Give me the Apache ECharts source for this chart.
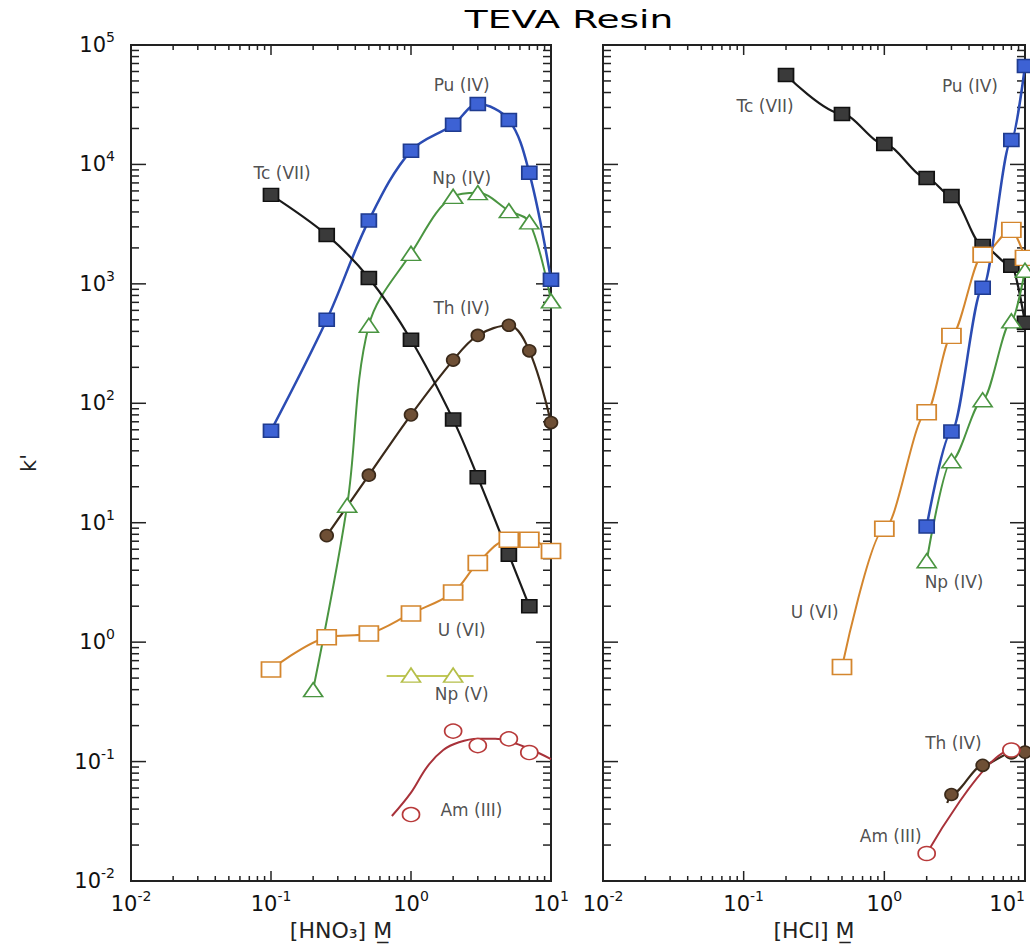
<!DOCTYPE html>
<html lang="en">
<head>
<meta charset="UTF-8">
<title>TEVA Resin</title>
<script src="https://cdn.jsdelivr.net/npm/echarts@6/dist/echarts.min.js"></script>
<style>
    html, body { margin: 0; padding: 0; background: #fff; }
    #main { width: 1030px; height: 948px; }
</style>
</head>
<body>
<div id="main"></div>
<script>
// axis decades and minor tick steps
var yDecades = [-2, -1, 0, 1, 2, 3, 4, 5];
var xDecades = [-2, -1, 0, 1];
var minorSteps = [2, 3, 4, 5, 6, 7, 8, 9];

// ---- [HNO3] panel: [acid conc (M), k'] ----
var puHNO3 = [[0.1, 59], [0.25, 500], [0.5, 3400], [1, 13000], [2, 21500], [3, 32000], [5, 23600], [7, 8500], [10, 1080]];
var tcHNO3 = [[0.1, 5560], [0.25, 2570], [0.5, 1120], [1, 340], [2, 73], [3, 24], [5, 5.4], [7, 2.0]];
var npIVHNO3 = [[0.2, 0.4], [0.35, 14], [0.5, 450], [1, 1800], [2, 5400], [3, 5800], [5, 4100], [7, 3300], [10, 720]];
var thHNO3 = [[0.25, 7.8], [0.5, 25], [1, 80], [2, 230], [3, 370], [5, 450], [7, 275], [10, 69]];
var uHNO3 = [[0.1, 0.59], [0.25, 1.1], [0.5, 1.18], [1, 1.74], [2, 2.6], [3, 4.6], [5, 7.2], [7, 7.2], [10, 5.8]];
var npVHNO3 = [[1, 0.53], [2, 0.53]];
var npVFitHNO3 = [[0.67, 0.52], [2.8, 0.52]];
var amHNO3 = [[1, 0.036], [2, 0.18], [3, 0.136], [5, 0.155], [7, 0.119]];
var amFitHNO3 = [[0.73, 0.035], [1.0, 0.055], [1.3, 0.09], [1.7, 0.125], [2.2, 0.145], [3, 0.155], [4, 0.155], [5, 0.148], [7, 0.128], [10, 0.105]];

// ---- [HCl] panel ----
var tcHCl = [[0.2, 56000], [0.5, 26500], [1, 14800], [2, 7700], [3, 5450], [5, 2080], [8, 1415], [10, 472]];
var puHCl = [[2, 9.3], [3, 58], [5, 926], [8, 16000], [10, 66700]];
var npIVHCl = [[2, 4.8], [3, 33], [5, 107], [8, 490], [10, 1300]];
var uHCl = [[0.5, 0.62], [1, 8.9], [2, 84], [3, 367], [5, 1750], [8, 2830], [10, 1650]];
var thHCl = [[3, 0.053], [5, 0.093], [8, 0.118], [10, 0.12]];
var thFitHCl = [[2.8, 0.045], [3, 0.053], [5, 0.093], [8, 0.118], [10, 0.12]];
var amHCl = [[2, 0.017], [8, 0.125]];
var amFitHCl = [[2, 0.017], [8, 0.125], [10, 0.125]];

// curve labels [text, conc, k']
var labelsHNO3 = [['Pu (IV)', 2.3, 46000], ['Np (IV)', 2.3, 7700], ['Tc (VII)', 0.12, 8500], ['Th (IV)', 2.3, 630],
    ['U (VI)', 2.3, 1.27], ['Np (V)', 2.3, 0.37], ['Am (III)', 2.7, 0.039]];
var labelsHCl = [['Tc (VII)', 0.142, 31000], ['Pu (IV)', 4.06, 45000], ['U (VI)', 0.32, 1.8], ['Np (IV)', 3.13, 3.2],
    ['Th (IV)', 3.1, 0.144], ['Am (III)', 1.11, 0.024]];

var FONT = '"DejaVu Sans", "Liberation Sans", sans-serif';
var xMin = 0.01, xMax = 10, yMin = 0.01, yMax = 100000;

var speciesStyle = {
    Pu:   {line: '#2b4cb3', fill: '#3d62d4', border: '#1f3b8f', symbol: 'rect', size: [15, 13], width: 2.5},
    Tc:   {line: '#1a1a1a', fill: '#3a3a3a', border: '#111111', symbol: 'rect', size: [15, 13], width: 2.2},
    NpIV: {line: '#4a9541', fill: '#ffffff', border: '#4a9541', symbol: 'triangle', size: [19, 14], width: 2},
    Th:   {line: '#3b2a1a', fill: '#6e4f35', border: '#3b2a1a', symbol: 'circle', size: [13, 12], width: 2.2},
    U:    {line: '#d4862e', fill: '#ffffff', border: '#d4862e', symbol: 'rect', size: [19, 15], width: 2},
    NpV:  {line: '#c3c95a', fill: '#ffffff', border: '#b5bf4a', symbol: 'triangle', size: [19, 14], width: 2},
    Am:   {line: '#a8323a', fill: '#ffffff', border: '#b83a3a', symbol: 'circle', size: [17, 14], width: 2}
};

var hno3Sets = [['Pu', puHNO3], ['NpIV', npIVHNO3], ['Th', thHNO3], ['Tc', tcHNO3],
    ['U', uHNO3], ['NpV', npVHNO3, npVFitHNO3], ['Am', amHNO3, amFitHNO3]];
var hclSets = [['Tc', tcHCl], ['U', uHCl], ['Pu', puHCl], ['NpIV', npIVHCl], ['Th', thHCl, thFitHCl], ['Am', amHCl, amFitHCl]];

function powLabel(value) {
    var e = Math.round(Math.log(value) / Math.LN10);
    return '{b|10}{s|' + e + '}';
}
var richPow = {
    b: {fontSize: 21, fontFamily: FONT, color: '#111', lineHeight: 30},
    s: {fontSize: 14, fontFamily: FONT, color: '#111', verticalAlign: 'top'}
};

// tick marks on all four sides, positioned by the axes themselves
function tickData() {
    var d = [];
    yDecades.forEach(function (e, i) {
        var base = Math.pow(10, e);
        d.push([xMin, base, 0, 1]);
        if (i < yDecades.length - 1) {
            minorSteps.forEach(function (m) { d.push([xMin, m * base, 0, 0]); });
        }
    });
    xDecades.forEach(function (e, i) {
        var base = Math.pow(10, e);
        d.push([base, yMin, 1, 1]);
        if (i < xDecades.length - 1) {
            minorSteps.forEach(function (m) { d.push([m * base, yMin, 1, 0]); });
        }
    });
    return d;
}
function renderTicks(params, api) {
    var kind = api.value(2), major = api.value(3);
    var st = {stroke: '#222', lineWidth: 1.5};
    if (kind === 0) {
        var y = api.value(1);
        var a = api.coord([xMin, y]), b = api.coord([xMax, y]);
        var len = major ? 15 : 8;
        return {type: 'group', children: [
            {type: 'line', shape: {x1: a[0], y1: a[1], x2: a[0] + len, y2: a[1]}, style: st},
            {type: 'line', shape: {x1: b[0], y1: b[1], x2: b[0] - len, y2: b[1]}, style: st}
        ]};
    }
    var x = api.value(0);
    var p = api.coord([x, yMin]), q = api.coord([x, yMax]);
    var l2 = major ? 10 : 5;
    return {type: 'group', children: [
        {type: 'line', shape: {x1: p[0], y1: p[1], x2: p[0], y2: p[1] - l2}, style: st},
        {type: 'line', shape: {x1: q[0], y1: q[1], x2: q[0], y2: q[1] + l2}, style: st}
    ]};
}

// left panel curves are smooth fits; the HCl curves are steep and bunched at high acid,
// so keep them monotone in x there to avoid loops
var panelSmooth = [{smooth: 0.35, mono: null}, {smooth: 0.3, mono: 'x'}];

function speciesSeries(idx, key, markers, fit) {
    var s = speciesStyle[key];
    return [{
        type: 'line', xAxisIndex: idx, yAxisIndex: idx, data: fit || markers,
        smooth: panelSmooth[idx].smooth, smoothMonotone: panelSmooth[idx].mono,
        showSymbol: false, symbol: 'none',
        lineStyle: {color: s.line, width: s.width}, z: 3, silent: true
    }, {
        type: 'scatter', xAxisIndex: idx, yAxisIndex: idx, data: markers,
        symbol: s.symbol, symbolSize: s.size,
        itemStyle: {color: s.fill, borderColor: s.border, borderWidth: 1.6, opacity: 1}, z: 4, silent: true
    }];
}

function labelSeries(idx, labels) {
    return {
        type: 'scatter', xAxisIndex: idx, yAxisIndex: idx, symbolSize: 1, silent: true, z: 6,
        itemStyle: {color: 'rgba(0,0,0,0)'},
        data: labels.map(function (l) { return {name: l[0], value: [l[1], l[2]]}; }),
        label: {show: true, position: 'inside', formatter: '{b}', fontSize: 17, fontFamily: FONT, color: '#222'}
    };
}

function xAxisCfg(idx, name) {
    return {
        type: 'log', logBase: 10, gridIndex: idx, min: xMin, max: xMax,
        name: name, nameLocation: 'middle', nameGap: 37,
        nameTextStyle: {fontSize: 22, fontFamily: FONT, color: '#222'},
        axisLine: {show: false}, axisTick: {show: false}, splitLine: {show: false},
        axisLabel: {formatter: powLabel, margin: 8, rich: richPow, showMinLabel: true, showMaxLabel: true,
            alignMaxLabel: idx === 1 ? 'right' : null}
    };
}
function yAxisCfg(idx, showLabels) {
    return {
        type: 'log', logBase: 10, gridIndex: idx, min: yMin, max: yMax,
        name: showLabels ? "k'" : '', nameLocation: 'middle', nameGap: 92, nameRotate: 90,
        nameTextStyle: {fontSize: 21, fontFamily: FONT, color: '#222'},
        axisLine: {show: false}, axisTick: {show: false}, splitLine: {show: false},
        axisLabel: {show: showLabels, formatter: powLabel, margin: 16, rich: richPow, showMinLabel: true, showMaxLabel: true}
    };
}

var series = [];
hno3Sets.forEach(function (s) {
    series = series.concat(speciesSeries(0, s[0], s[1], s[2]));
});
hclSets.forEach(function (s) {
    series = series.concat(speciesSeries(1, s[0], s[1], s[2]));
});
[0, 1].forEach(function (i) {
    series.push({
        type: 'custom', xAxisIndex: i, yAxisIndex: i, data: tickData(),
        renderItem: renderTicks, silent: true, z: 1, clip: false
    });
});
series.push(labelSeries(0, labelsHNO3));
series.push(labelSeries(1, labelsHCl));

var chart = echarts.init(document.getElementById('main'), null, {renderer: 'svg'});
chart.setOption({
    animation: false,
    backgroundColor: '#ffffff',
    graphic: [{
        type: 'text', x: 569, y: 19, scaleX: 1.5,
        style: {text: 'TEVA Resin', fontSize: 25, fontFamily: FONT, fill: '#000', align: 'center', verticalAlign: 'middle'}
    }],
    grid: [
        {left: 131, top: 45, width: 420, height: 836, show: true, borderColor: '#222', borderWidth: 2, outerBoundsMode: 'none'},
        {left: 603, top: 45, width: 422, height: 836, show: true, borderColor: '#222', borderWidth: 2, outerBoundsMode: 'none'}
    ],
    xAxis: [xAxisCfg(0, '[HNO\u2083] M\u0332'), xAxisCfg(1, '[HCl] M\u0332')],
    yAxis: [yAxisCfg(0, true), yAxisCfg(1, false)],
    series: series
});
</script>
</body>
</html>
